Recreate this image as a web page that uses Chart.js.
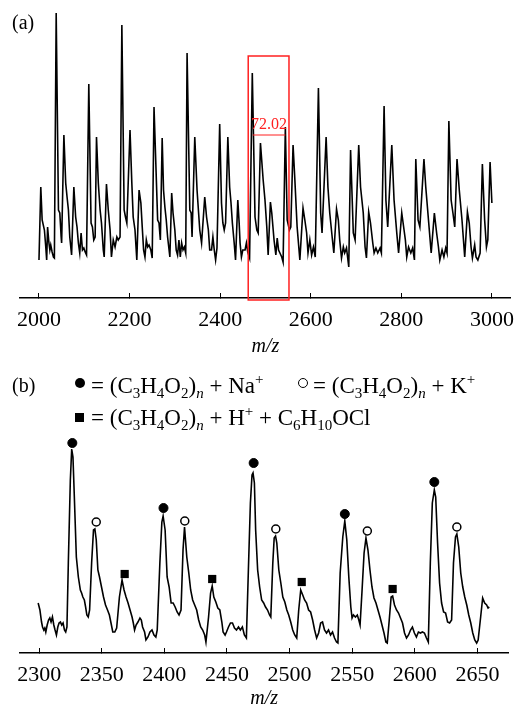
<!DOCTYPE html>
<html>
<head>
<meta charset="utf-8">
<script src="https://cdn.jsdelivr.net/npm/chart.js@4.4.0/dist/chart.umd.min.js"></script>
<style>
  html, body { margin: 0; padding: 0; background: #fff; }
  #page { position: relative; width: 514px; height: 704px; overflow: hidden;
          font-family: 'Liberation Serif', 'Times New Roman', serif; color: #000; }
  canvas { position: absolute; left: 0; }
  #ca { top: 0; }
  #cb { top: 352px; }
  .tag { position: absolute; font-size: 20px; line-height: 1; z-index: 2; }
  .leg { position: absolute; font-size: 23px; line-height: 1; white-space: nowrap; z-index: 2; }
  .leg sub, .leg sup { font-size: 15px; position: relative; vertical-align: baseline; line-height: 0; }
  .leg sub { top: 5px; }
  .leg sup { top: -9px; }
  .mk { position: absolute; box-sizing: border-box; z-index: 2; }
</style>
</head>
<body>
<div id="page">
  <canvas id="ca" width="514" height="356"></canvas>
  <canvas id="cb" width="514" height="356"></canvas>

  <div class="tag" style="left:12px; top:12px;">(a)</div>
  <div class="tag" style="left:12px; top:375px;">(b)</div>

  <div class="mk" style="left:75px; top:378px; width:10px; height:10px; border-radius:50%; background:#000;"></div>
  <div class="leg" style="left:91px; top:374px;">= (C<sub>3</sub>H<sub>4</sub>O<sub>2</sub>)<sub><i>n</i></sub> + Na<sup>+</sup></div>

  <div class="mk" style="left:298px; top:378px; width:10px; height:10px; border-radius:50%; border:1.5px solid #000; background:#fff;"></div>
  <div class="leg" style="left:313px; top:374px;">= (C<sub>3</sub>H<sub>4</sub>O<sub>2</sub>)<sub><i>n</i></sub> + K<sup>+</sup></div>

  <div class="mk" style="left:75px; top:413px; width:9px; height:9px; background:#000;"></div>
  <div class="leg" style="left:91px; top:406px;">= (C<sub>3</sub>H<sub>4</sub>O<sub>2</sub>)<sub><i>n</i></sub> + H<sup>+</sup> + C<sub>6</sub>H<sub>10</sub>OCl</div>
</div>

<script>
// ---- panel (a): full spectrum, m/z and intensity (a.u.)
const aMz = [
  2000, 2004, 2007, 2012, 2015, 2017, 2019, 2022, 2024, 2026,
  2029, 2032, 2034, 2038, 2043, 2046, 2049, 2050, 2055, 2059,
  2062, 2065, 2068, 2072, 2077, 2081, 2084, 2087, 2090, 2093,
  2096, 2099, 2102, 2105, 2110, 2115, 2118, 2121, 2124, 2127,
  2131, 2135, 2138, 2142, 2144, 2149, 2153, 2157, 2160, 2164,
  2168, 2172, 2175, 2179, 2183, 2188, 2191, 2194, 2201, 2205,
  2208, 2212, 2216, 2221, 2225, 2228, 2231, 2234, 2237, 2240,
  2243, 2247, 2250, 2254, 2262, 2265, 2268, 2272, 2275, 2278,
  2281, 2284, 2289, 2293, 2296, 2300, 2303, 2306, 2309, 2312,
  2315, 2318, 2321, 2324, 2327, 2333, 2336, 2338, 2344, 2349,
  2352, 2355, 2359, 2366, 2370, 2374, 2377, 2381, 2384, 2387,
  2390, 2393, 2399, 2403, 2406, 2409, 2412, 2417, 2421, 2424,
  2427, 2431, 2434, 2439, 2442, 2444, 2447, 2450, 2455, 2458,
  2461, 2465, 2471, 2477, 2481, 2484, 2489, 2495, 2499, 2503,
  2506, 2511, 2514, 2519, 2523, 2526, 2529, 2532, 2536, 2539,
  2544, 2548, 2553, 2556, 2561, 2565, 2570, 2576, 2583, 2587,
  2591, 2594, 2598, 2602, 2606, 2610, 2617, 2622, 2625, 2634,
  2638, 2642, 2648, 2651, 2657, 2661, 2664, 2668, 2672, 2675,
  2679, 2684, 2688, 2694, 2698, 2706, 2710, 2716, 2720, 2723,
  2728, 2732, 2737, 2740, 2744, 2748, 2753, 2756, 2762, 2766,
  2770, 2779, 2784, 2790, 2794, 2801, 2804, 2809, 2812, 2816,
  2821, 2825, 2829, 2832, 2837, 2841, 2850, 2854, 2860, 2866,
  2873, 2878, 2882, 2885, 2890, 2894, 2898, 2901, 2905, 2910,
  2914, 2918, 2923, 2928, 2934, 2940, 2946, 2950, 2954, 2957,
  2962, 2965, 2969, 2974, 2979, 2984, 2988, 2991, 2996, 3000
];
const aInt = [
  38, 111, 78, 68, 51, 38, 71, 55, 48, 53,
  46, 41, 40, 285, 88, 85, 61, 55, 163, 115,
  101, 88, 61, 43, 111, 81, 71, 55, 45, 65,
  48, 50, 46, 43, 214, 75, 71, 58, 61, 161,
  115, 88, 75, 48, 41, 114, 88, 68, 41, 58,
  51, 61, 58, 61, 273, 88, 81, 75, 168, 115,
  81, 68, 38, 108, 95, 71, 48, 41, 58, 51,
  53, 48, 40, 191, 78, 75, 58, 160, 108, 91,
  78, 61, 41, 105, 85, 68, 48, 43, 58, 41,
  55, 48, 51, 45, 245, 88, 85, 61, 161, 108,
  88, 68, 55, 101, 81, 68, 48, 48, 61, 48,
  38, 50, 174, 95, 75, 68, 75, 161, 111, 95,
  75, 55, 38, 98, 75, 55, 41, 48, 48, 55,
  46, 40, 225, 81, 68, 65, 155, 118, 98, 71,
  43, 96, 85, 58, 43, 60, 48, 45, 41, 36,
  171, 78, 68, 71, 153, 118, 71, 38, 90, 78,
  65, 45, 58, 43, 51, 41, 210, 85, 65, 161,
  111, 85, 58, 45, 89, 78, 58, 40, 51, 45,
  50, 31, 148, 65, 58, 153, 111, 85, 51, 40,
  86, 75, 55, 45, 50, 45, 50, 45, 192, 98,
  71, 153, 98, 65, 45, 85, 75, 58, 41, 51,
  45, 50, 38, 139, 78, 71, 139, 111, 78, 45,
  85, 65, 51, 38, 48, 41, 50, 45, 177, 98,
  85, 71, 139, 108, 78, 41, 86, 75, 51, 40,
  53, 41, 38, 45, 134, 78, 51, 58, 136, 95
];
const aTicks = [2000, 2200, 2400, 2600, 2800, 3000];

// highlighted window and peak spacing in (a)
const boxMz = [2462, 2552];
const boxInt = [-2, 242];
const gapMz = [2472, 2544];
const gapInt = 163;
const gapLabel = '72.02';

// ---- panel (b): zoomed spectrum
const bMz = [
  2299.2, 2300.6, 2301.9, 2302.7, 2303.7, 2304.5, 2305.3, 2306.4, 2307.5, 2308.5,
  2309.5, 2310.6, 2311.7, 2312.7, 2313.8, 2314.9, 2315.9, 2317.0, 2318.0, 2319.1,
  2320.2, 2321.2, 2322.2, 2323.3, 2324.9, 2326.0, 2327.0, 2328.1, 2329.7, 2331.3,
  2332.9, 2333.9, 2334.9, 2336.1, 2337.1, 2338.1, 2339.2, 2340.3, 2341.9, 2343.4,
  2344.5, 2345.6, 2346.9, 2348.2, 2349.8, 2351.4, 2353.0, 2354.6, 2356.1, 2357.7,
  2358.8, 2360.4, 2361.9, 2364.1, 2366.2, 2367.8, 2369.4, 2371.0, 2372.6, 2374.2,
  2375.2, 2376.2, 2377.4, 2378.9, 2380.5, 2381.6, 2382.6, 2384.2, 2385.3, 2386.9,
  2388.5, 2390.1, 2391.7, 2393.2, 2394.3, 2396.4, 2398.0, 2399.0, 2400.6, 2402.2,
  2403.8, 2405.4, 2407.0, 2408.6, 2410.2, 2411.7, 2413.3, 2414.9, 2416.1, 2417.9,
  2419.5, 2421.0, 2422.6, 2424.2, 2425.8, 2427.4, 2429.0, 2430.6, 2432.2, 2433.2,
  2435.3, 2436.9, 2438.2, 2439.5, 2441.1, 2442.7, 2444.3, 2445.9, 2446.9, 2448.5,
  2449.6, 2451.2, 2452.8, 2454.4, 2456.0, 2457.6, 2459.2, 2460.7, 2462.3, 2463.9,
  2465.5, 2467.1, 2468.7, 2470.0, 2470.8, 2471.9, 2472.9, 2474.5, 2476.1, 2477.7,
  2479.3, 2480.8, 2482.4, 2484.0, 2485.0, 2486.6, 2487.7, 2488.8, 2489.8, 2491.4,
  2493.0, 2494.6, 2496.2, 2497.8, 2499.3, 2500.9, 2502.5, 2504.1, 2505.7, 2507.3,
  2508.9, 2510.5, 2512.0, 2513.6, 2515.2, 2516.8, 2518.4, 2520.0, 2521.6, 2523.2,
  2524.8, 2526.3, 2527.9, 2529.5, 2531.1, 2532.7, 2534.3, 2535.9, 2537.5, 2538.6,
  2540.4, 2542.5, 2544.1, 2545.7, 2547.3, 2548.9, 2549.9, 2551.0, 2552.6, 2554.1,
  2555.3, 2556.3, 2557.9, 2559.5, 2561.0, 2562.6, 2564.2, 2565.8, 2567.4, 2569.0,
  2570.6, 2572.2, 2573.8, 2575.4, 2576.9, 2578.0, 2579.6, 2581.1, 2582.3, 2583.8,
  2585.4, 2587.0, 2588.6, 2590.2, 2591.8, 2593.4, 2595.0, 2596.6, 2598.1, 2599.7,
  2601.3, 2602.9, 2604.5, 2606.1, 2607.7, 2609.3, 2610.8, 2612.4, 2614.0, 2615.6,
  2616.7, 2618.2, 2619.8, 2621.4, 2623.0, 2624.6, 2626.2, 2627.8, 2629.4, 2630.9,
  2632.5, 2633.6, 2635.1, 2636.7, 2638.3, 2639.9, 2641.5, 2643.1, 2644.7, 2646.3,
  2647.9, 2649.4, 2650.6, 2652.6, 2654.2, 2655.8, 2657.4, 2658.5, 2659.5
];
const bInt = [
  50, 43, 31, 26, 23, 25, 21, 28, 33, 35,
  31, 36, 28, 23, 18, 26, 30, 31, 28, 30,
  23, 21, 26, 90, 173, 204, 196, 156, 96, 76,
  63, 60, 56, 53, 46, 38, 36, 43, 90, 123,
  124, 113, 83, 76, 66, 56, 48, 43, 38, 28,
  21, 21, 25, 56, 73, 63, 56, 50, 43, 36,
  30, 23, 28, 31, 35, 33, 26, 21, 13, 16,
  21, 23, 18, 16, 23, 90, 131, 137, 123, 76,
  66, 50, 50, 46, 41, 38, 43, 103, 126, 96,
  80, 63, 53, 48, 43, 33, 26, 23, 18, 11,
  36, 60, 67, 56, 51, 45, 43, 31, 21, 18,
  21, 26, 30, 30, 25, 23, 26, 23, 26, 18,
  15, 83, 150, 178, 180, 170, 123, 83, 66, 53,
  50, 46, 43, 38, 36, 90, 115, 117, 110, 83,
  70, 56, 51, 43, 38, 31, 23, 18, 15, 43,
  63, 58, 53, 50, 43, 41, 33, 23, 15, 20,
  30, 31, 23, 20, 23, 18, 21, 15, 11, 10,
  80, 116, 132, 113, 76, 46, 35, 38, 36, 38,
  33, 28, 63, 100, 115, 103, 83, 66, 55, 50,
  43, 36, 28, 20, 11, 10, 33, 56, 57, 48,
  43, 40, 35, 30, 20, 15, 18, 23, 26, 20,
  16, 21, 20, 21, 20, 15, 11, 90, 150, 163,
  156, 110, 70, 50, 41, 40, 31, 30, 33, 90,
  116, 119, 106, 80, 66, 56, 48, 38, 30, 20,
  13, 10, 13, 36, 55, 50, 48, 45, 46
];
const bTicks = [2300, 2350, 2400, 2450, 2500, 2550, 2600, 2650];

// peak assignments in (b): marker positions
const naMz = [2326.5, 2399.3, 2471.3, 2544.1, 2615.6];
const naInt = [210, 145, 190, 139, 171];
const kMz = [2345.6, 2416.3, 2489.0, 2562.1, 2633.6];
const kInt = [131, 132, 124, 122, 126];
const hMz = [2368.3, 2438.2, 2509.7, 2582.3];
const hInt = [79, 74, 71, 64];

const serif = "'Liberation Serif', 'Times New Roman', serif";

function zip(xs, ys) {
    return xs.map((x, i) => ({ x: x, y: ys[i] }));
}

// tick padding stays 0 (it also widens the side padding); labels are pushed down by lineHeight
function xAxis(min, max, ticks, height) {
    return {
        type: 'linear',
        min: min,
        max: max,
        afterBuildTicks: s => { s.ticks = ticks.map(v => ({ value: v })); },
        afterFit: s => { s.height = height; },
        border: { display: true, color: '#000', width: 1.5 },
        grid: { display: true, drawOnChartArea: false, drawTicks: true, tickLength: -5, color: '#000', lineWidth: 1 },
        ticks: { color: '#000', padding: 0, font: { family: serif, size: 22, lineHeight: 2.5 }, callback: v => String(v) },
        title: {
            display: true, text: 'm/z', color: '#000',
            font: { family: serif, size: 20, style: 'italic', lineHeight: 1 },
            padding: { top: 0, bottom: -1 }
        }
    };
}

const bracketPlugin = {
    id: 'bracket',
    afterDraw(chart) {
        const { ctx } = chart;
        const x = chart.scales.x, y = chart.scales.y;
        const left = x.getPixelForValue(boxMz[0]);
        const right = x.getPixelForValue(boxMz[1]);
        const top = y.getPixelForValue(boxInt[1]);
        const bottom = y.getPixelForValue(boxInt[0]);
        ctx.save();
        ctx.strokeStyle = '#ff2020';
        ctx.lineWidth = 1.5;
        ctx.strokeRect(left, top, right - left, bottom - top);
        const gy = y.getPixelForValue(gapInt);
        ctx.lineWidth = 1;
        ctx.beginPath();
        ctx.moveTo(x.getPixelForValue(gapMz[0]), gy);
        ctx.lineTo(x.getPixelForValue(gapMz[1]), gy);
        ctx.stroke();
        ctx.fillStyle = '#ff2020';
        ctx.font = '16px ' + serif;
        ctx.textAlign = 'center';
        ctx.textBaseline = 'alphabetic';
        ctx.fillText(gapLabel, x.getPixelForValue((gapMz[0] + gapMz[1]) / 2), gy - 6.5);
        ctx.restore();
    }
};

const common = {
    responsive: false,
    animation: false,
    devicePixelRatio: 1,
    plugins: { legend: { display: false }, tooltip: { enabled: false } }
};

new Chart(document.getElementById('ca').getContext('2d'), {
    type: 'line',
    data: {
        datasets: [{
            data: zip(aMz, aInt),
            borderColor: '#000',
            borderWidth: 1.6,
            pointRadius: 0,
            tension: 0,
            fill: false
        }]
    },
    options: Object.assign({}, common, {
        layout: { padding: { left: 20, right: 3, top: 12, bottom: 0 } },
        scales: {
            x: xAxis(1958.1, 3041.9, aTicks, 58),
            y: { display: false, min: 0, max: 286 }
        }
    }),
    plugins: [bracketPlugin]
});

new Chart(document.getElementById('cb').getContext('2d'), {
    type: 'line',
    data: {
        datasets: [{
            data: zip(bMz, bInt),
            borderColor: '#000',
            borderWidth: 1.6,
            pointRadius: 0,
            tension: 0,
            fill: false
        }, {
            data: zip(naMz, naInt),
            showLine: false,
            pointStyle: 'circle',
            pointRadius: 4.5,
            backgroundColor: '#000',
            borderColor: '#000',
            borderWidth: 1,
            clip: false
        }, {
            data: zip(kMz, kInt),
            showLine: false,
            pointStyle: 'circle',
            pointRadius: 4,
            backgroundColor: '#fff',
            borderColor: '#000',
            borderWidth: 1.5,
            clip: false
        }, {
            data: zip(hMz, hInt),
            showLine: false,
            pointStyle: 'rect',
            pointRadius: 5.8,
            backgroundColor: '#000',
            borderColor: '#000',
            borderWidth: 0,
            clip: false
        }]
    },
    options: Object.assign({}, common, {
        layout: { padding: { left: 20, right: 3, top: 81, bottom: 0 } },
        scales: {
            x: xAxis(2284.7, 2674.6, bTicks, 55),
            y: { display: false, min: 0, max: 220 }
        }
    })
});
</script>
</body>
</html>
